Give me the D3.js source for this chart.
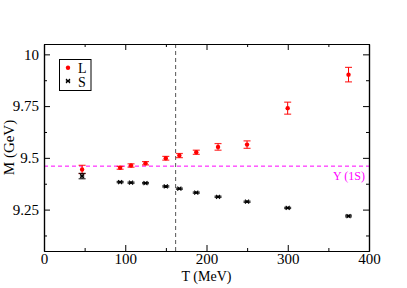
<!DOCTYPE html>
<html><head><meta charset="utf-8">
<script src="https://cdn.jsdelivr.net/npm/d3@7"></script>
<style>body{margin:0;background:#fff}svg{display:block}</style>
</head><body>
<svg id="c" width="407" height="288"></svg>
<script>
const temps = [46.9, 93.7, 107.1, 124.9, 149.9, 166.6, 187.4, 214.2, 249.9, 299.9, 374.8];
const massL = [9.444, 9.452, 9.463, 9.474, 9.498, 9.511, 9.527, 9.553, 9.564, 9.740, 9.902];
const errL  = [0.020, 0.007, 0.008, 0.008, 0.009, 0.010, 0.010, 0.016, 0.018, 0.029, 0.035];
const massS = [9.412, 9.383, 9.380, 9.378, 9.362, 9.351, 9.332, 9.312, 9.288, 9.258, 9.219];
const errS  = [0.013, 0.003, 0.003, 0.003, 0.003, 0.003, 0.003, 0.003, 0.003, 0.003, 0.004];
const xTicks = [0, 100, 200, 300, 400];
const xMinor = [50, 150, 250, 350];
const yTicks = [9.25, 9.5, 9.75, 10];
const yTickLabels = ["9.25", "9.5", "9.75", "10"];
const yMinor = [9.125, 9.375, 9.625, 9.875];
const Tc = 162;
const upsilon = 9.460;

const svg = d3.select("#c");
const L = 44, R = 369, T = 44, B = 251;
const x = d3.scaleLinear().domain([0, 400]).range([L, R]);
const y = d3.scaleLinear().domain([9.05, 10.05]).range([B, T]);
const font = "'Liberation Serif','Times New Roman',serif";

// reference lines
svg.append("line").attr("x1", x(Tc)).attr("x2", x(Tc)).attr("y1", T).attr("y2", B)
  .attr("stroke", "#555").attr("stroke-width", 1).attr("stroke-dasharray", "4,3");
svg.append("line").attr("x1", L).attr("x2", R).attr("y1", y(upsilon)).attr("y2", y(upsilon))
  .attr("stroke", "#ff00ff").attr("stroke-width", 1).attr("stroke-dasharray", "4,3");
svg.append("text").attr("x", 365).attr("y", 180).attr("text-anchor", "end")
  .attr("font-family", font).attr("font-size", 12).attr("fill", "#ff00ff").text("Υ (1S)");

// axes (ticks inward)
function axisG(axis, tr) {
  return svg.append("g").attr("transform", tr).call(axis)
    .call(g => g.select(".domain").attr("stroke", "#000").attr("stroke-width", 1.2))
    .call(g => g.selectAll(".tick line").attr("stroke", "#000"))
    .call(g => g.selectAll("text").attr("font-family", font).attr("font-size", 15).attr("fill", "#000"));
}
axisG(d3.axisBottom(x).tickValues(xTicks).tickFormat(d3.format("d")).tickSizeInner(-6).tickSizeOuter(0).tickPadding(2), `translate(0,${B})`);
axisG(d3.axisBottom(x).tickValues(xMinor).tickFormat("").tickSizeInner(-3).tickSizeOuter(0), `translate(0,${B})`);
axisG(d3.axisTop(x).tickValues(xTicks).tickFormat("").tickSizeInner(-6).tickSizeOuter(0), `translate(0,${T})`);
axisG(d3.axisTop(x).tickValues(xMinor).tickFormat("").tickSizeInner(-3).tickSizeOuter(0), `translate(0,${T})`);
axisG(d3.axisLeft(y).tickValues(yTicks).tickFormat((d, i) => yTickLabels[i]).tickSizeInner(-6).tickSizeOuter(0).tickPadding(5), `translate(${L},0)`);
axisG(d3.axisLeft(y).tickValues(yMinor).tickFormat("").tickSizeInner(-3).tickSizeOuter(0), `translate(${L},0)`);
axisG(d3.axisRight(y).tickValues(yTicks).tickFormat("").tickSizeInner(-6).tickSizeOuter(0), `translate(${R},0)`);
axisG(d3.axisRight(y).tickValues(yMinor).tickFormat("").tickSizeInner(-3).tickSizeOuter(0), `translate(${R},0)`);

svg.append("text").attr("x", (L + R) / 2).attr("y", 281).attr("text-anchor", "middle")
  .attr("font-family", font).attr("font-size", 14).text("T (MeV)");
svg.append("text").attr("transform", `translate(14,${(T + B) / 2}) rotate(-90)`).attr("text-anchor", "middle")
  .attr("font-family", font).attr("font-size", 15).text("M (GeV)");

// error bars + markers
function series(ms, es, color, kind) {
  const g = svg.append("g");
  temps.forEach((t, i) => {
    const cx = x(t), y1 = y(ms[i] + es[i]), y2 = y(ms[i] - es[i]);
    g.append("line").attr("x1", cx).attr("x2", cx).attr("y1", y1).attr("y2", y2).attr("stroke", color).attr("stroke-width", 1);
    [y1, y2].forEach(yy => g.append("line").attr("x1", cx - 3.5).attr("x2", cx + 3.5).attr("y1", yy).attr("y2", yy)
      .attr("stroke", color).attr("stroke-width", 1.2).attr("opacity", 0.8));
    drawMarker(g, cx, y(ms[i]), color, kind);
  });
}
function drawMarker(g, cx, cy, color, kind) {
  if (kind === "circle") {
    g.append("circle").attr("cx", cx).attr("cy", cy).attr("r", 2.2).attr("fill", color);
  } else {
    g.append("path").attr("d", `M${cx-2},${cy-2}L${cx+2},${cy+2}M${cx-2},${cy+2}L${cx+2},${cy-2}M${cx-2.2},${cy}L${cx+2.2},${cy}`)
      .attr("stroke", color).attr("stroke-width", 1.1);
  }
}
series(massL, errL, "#ff0000", "circle");
series(massS, errS, "#000", "x");

// legend
svg.append("rect").attr("x", 59.5).attr("y", 59.5).attr("width", 31.5).attr("height", 31)
  .attr("fill", "#fff").attr("stroke", "#000").attr("stroke-width", 1);
drawMarker(svg, 68, 67.7, "#ff0000", "circle");
drawMarker(svg, 68, 81, "#000", "x");
svg.append("text").attr("x", 78).attr("y", 73).attr("font-family", font).attr("font-size", 14).text("L");
svg.append("text").attr("x", 78).attr("y", 87).attr("font-family", font).attr("font-size", 14).text("S");
</script>
</body></html>
